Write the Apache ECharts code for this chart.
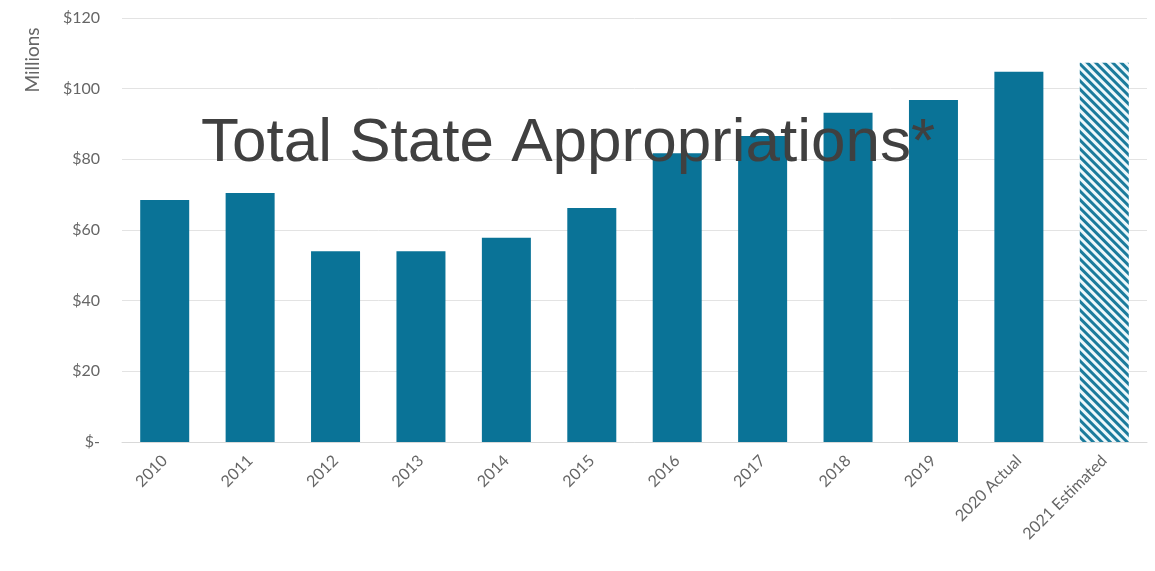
<!DOCTYPE html>
<html>
<head>
<meta charset="utf-8">
<script src="https://cdn.jsdelivr.net/npm/echarts@6/dist/echarts.min.js"></script>
<style>
  html, body { margin: 0; padding: 0; background: #fff; }
  #main { width: 1155px; height: 571px; }
</style>
</head>
<body>
<div id="main"></div>
<script>
const categories = ["2010", "2011", "2012", "2013", "2014", "2015", "2016", "2017", "2018", "2019", "2020 Actual", "2021 Estimated"];
const appropriations = [68.5, 70.5, 54, 54, 57.8, 66.2, 81.7, 86.6, 93.2, 96.8, 104.8, 107.3];
const estimatedIndex = 11;
const yTicks = { min: 0, max: 120, interval: 20 };

let myCharts = echarts.init(document.getElementById("main"), null, { renderer: "canvas" });

const barColor = "#0a7397";
const seriesData = appropriations.map((v, i) => {
	if (i === estimatedIndex) {
		return {
			value: v,
			itemStyle: {
				color: "#eef8fb",
				decal: {
					symbol: "rect",
					color: "#1b7b9c",
					dashArrayX: [1, 0],
					dashArrayY: [2.3, 2.3],
					rotation: Math.PI / 4,
				},
			},
		};
	}
	return v;
});

let option = {
	animation: false,
	title: {
		text: "Total State Appropriations*",
		left: 196,
		top: 108,
		textStyle: {
			fontFamily: "Liberation Sans",
			fontSize: 62,
			fontWeight: "normal",
			color: "#404040",
		},
	},
	grid: { left: 122, right: 8, top: 18, bottom: 129 },
	graphic: [
		{
			type: "text",
			x: 33,
			y: 60,
			rotation: Math.PI / 2,
			style: {
				text: "Millions",
				fontFamily: "Lato",
				fontSize: 19,
				fill: "#666666",
				align: "center",
				verticalAlign: "middle",
			},
		},
	],
	xAxis: {
		type: "category",
		data: categories,
		axisTick: { show: false },
		axisLine: { lineStyle: { color: "#d9d9d9" } },
		axisLabel: {
			rotate: 45,
			interval: 0,
			margin: 16,
			fontFamily: "Lato",
			fontSize: 16,
			color: "#666666",
		},
	},
	yAxis: {
		type: "value",
		min: yTicks.min,
		max: yTicks.max,
		interval: yTicks.interval,
		axisLabel: {
			margin: 22,
			fontFamily: "Lato",
			fontSize: 16,
			color: "#666666",
			formatter: (v) => (v === 0 ? "$-" : "$" + v),
		},
		splitLine: { lineStyle: { color: "#e3e3e3" } },
	},
	series: [
		{
			name: "Appropriations",
			type: "bar",
			barWidth: 49,
			itemStyle: { color: barColor },
			data: seriesData,
			z: 1,
		},
	],
};
myCharts.setOption(option);
</script>
</body>
</html>
